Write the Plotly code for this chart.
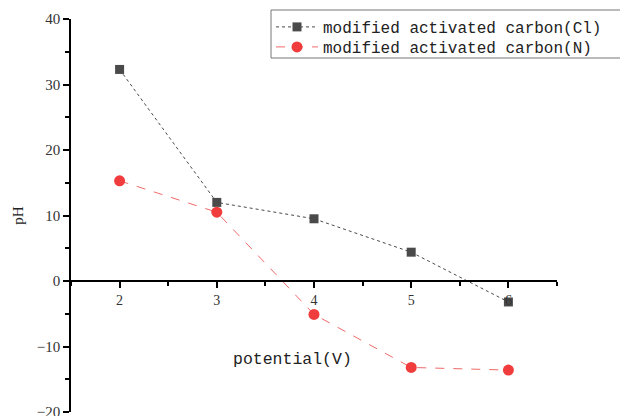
import plotly.graph_objects as go

potential = [2, 3, 4, 5, 6]
ph_cl = [32.3, 12.0, 9.5, 4.4, -3.2]
ph_n = [15.3, 10.5, -5.1, -13.2, -13.6]
name_cl = "modified activated carbon(Cl)"
name_n = "modified activated carbon(N)"

# plot area in pixels: left 71, right 557, top 19, bottom 412
def px_x(p):
    return (p - 71) / 486

def px_y(p):
    return (412 - p) / 393

fig = go.Figure()
fig.add_trace(go.Scatter(
    x=potential, y=ph_cl, name=name_cl, mode="lines+markers", legend="legend",
    line=dict(color="#4a4a4a", width=1, dash="dot"),
    marker=dict(symbol="square", size=9, color="#4a4a4a"),
))
fig.add_trace(go.Scatter(
    x=potential, y=ph_n, name=name_n, mode="lines+markers", legend="legend2",
    line=dict(color="#f06a6a", width=1, dash="dash"),
    marker=dict(symbol="circle", size=11, color="#f03c3c"),
))

leg_common = dict(
    xanchor="left", yanchor="middle", borderwidth=0, bgcolor="rgba(255,255,255,0)",
    font=dict(family="Liberation Mono", size=16, color="#222"), itemwidth=42,
)

fig.update_layout(
    width=620, height=416,
    margin=dict(l=71, r=63, t=19, b=4, autoexpand=False),
    paper_bgcolor="white", plot_bgcolor="white",
    font=dict(family="Liberation Serif", size=14, color="#333"),
    showlegend=True,
    legend=dict(x=px_x(271), y=px_y(27), **leg_common),
    legend2=dict(x=px_x(271), y=px_y(47), **leg_common),
    xaxis=dict(
        range=[1.5, 6.5], anchor="free", position=1/3, automargin=False,
        showline=True, linecolor="black", linewidth=1.5,
        ticks="outside", ticklen=6, tickwidth=1.5, tickcolor="black",
        dtick=1, tick0=0, showgrid=False, zeroline=False,
        minor=dict(dtick=0.5, tick0=0, ticks="outside", ticklen=4, tickwidth=1.5, tickcolor="black", showgrid=False),
        tickfont=dict(family="Liberation Serif", size=14, color="#333"),
    ),
    yaxis=dict(
        range=[-20, 40], domain=[0, 1], automargin=False,
        showline=True, linecolor="black", linewidth=1.5,
        ticks="outside", ticklen=6, tickwidth=1.5, tickcolor="black",
        dtick=10, showgrid=False, zeroline=False, ticklabeloverflow="allow",
        minor=dict(dtick=5, ticks="outside", ticklen=4, tickwidth=1.5, tickcolor="black", showgrid=False),
        tickfont=dict(family="Liberation Serif", size=15, color="#333"),
        title=dict(text="pH", font=dict(family="Liberation Serif", size=15, color="#222"), standoff=10),
    ),
)

# legend frame
fig.add_shape(
    type="rect", xref="paper", yref="paper",
    x0=px_x(271), x1=px_x(640), y0=px_y(58), y1=px_y(10),
    line=dict(color="#777", width=1), fillcolor="rgba(0,0,0,0)", layer="above",
)

fig.add_annotation(
    text="potential(V)", xref="paper", yref="paper",
    x=px_x(292), y=px_y(359), xanchor="center", yanchor="middle",
    showarrow=False, font=dict(family="Liberation Mono", size=16.5, color="#222"),
)

fig.write_html(
    "out.html",
    config={"displayModeBar": False},
    post_script="document.body.style.margin='0';document.body.style.padding='0';",
)
